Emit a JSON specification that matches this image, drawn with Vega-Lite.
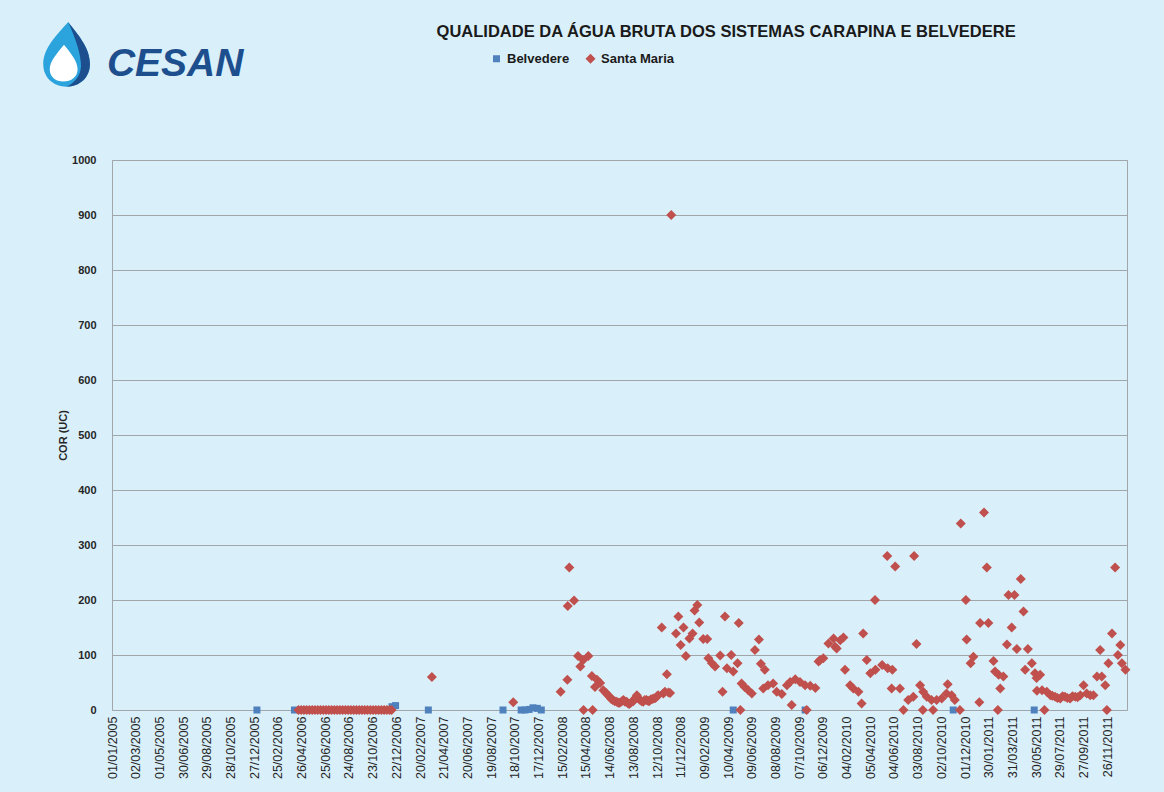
{
  "$schema": "https://vega.github.io/schema/vega-lite/v6.json",
  "autosize": {"type": "none"},
  "padding": {"left": 112, "top": 160, "right": 37, "bottom": 82},
  "width": 1015,
  "height": 550,
  "background": "#d9eff9",
  "config": {
    "font": "Liberation Sans",
    "view": {"stroke": "#a0a6aa", "strokeWidth": 1}
  },
  "layer": [
    {
      "data": {"values": [
        {"d": "2006-01-03", "s": "Belvedere", "v": 0},
        {"d": "2006-04-08", "s": "Belvedere", "v": 0},
        {"d": "2006-12-11", "s": "Belvedere", "v": 6},
        {"d": "2006-12-20", "s": "Belvedere", "v": 8},
        {"d": "2007-03-13", "s": "Belvedere", "v": 0},
        {"d": "2007-09-18", "s": "Belvedere", "v": 0},
        {"d": "2007-11-03", "s": "Belvedere", "v": 0},
        {"d": "2007-11-13", "s": "Belvedere", "v": 0},
        {"d": "2007-11-23", "s": "Belvedere", "v": 1},
        {"d": "2007-12-03", "s": "Belvedere", "v": 4},
        {"d": "2007-12-14", "s": "Belvedere", "v": 3},
        {"d": "2007-12-24", "s": "Belvedere", "v": 0},
        {"d": "2009-04-23", "s": "Belvedere", "v": 0},
        {"d": "2009-10-22", "s": "Belvedere", "v": 0},
        {"d": "2010-11-01", "s": "Belvedere", "v": 0},
        {"d": "2011-05-25", "s": "Belvedere", "v": 0},
        {"d": "2006-04-18", "s": "Santa Maria", "v": 0},
        {"d": "2006-04-25", "s": "Santa Maria", "v": 0},
        {"d": "2006-05-02", "s": "Santa Maria", "v": 0},
        {"d": "2006-05-09", "s": "Santa Maria", "v": 0},
        {"d": "2006-05-16", "s": "Santa Maria", "v": 0},
        {"d": "2006-05-23", "s": "Santa Maria", "v": 0},
        {"d": "2006-05-30", "s": "Santa Maria", "v": 0},
        {"d": "2006-06-06", "s": "Santa Maria", "v": 0},
        {"d": "2006-06-13", "s": "Santa Maria", "v": 0},
        {"d": "2006-06-20", "s": "Santa Maria", "v": 0},
        {"d": "2006-06-27", "s": "Santa Maria", "v": 0},
        {"d": "2006-07-04", "s": "Santa Maria", "v": 0},
        {"d": "2006-07-11", "s": "Santa Maria", "v": 0},
        {"d": "2006-07-18", "s": "Santa Maria", "v": 0},
        {"d": "2006-07-25", "s": "Santa Maria", "v": 0},
        {"d": "2006-08-01", "s": "Santa Maria", "v": 0},
        {"d": "2006-08-08", "s": "Santa Maria", "v": 0},
        {"d": "2006-08-15", "s": "Santa Maria", "v": 0},
        {"d": "2006-08-22", "s": "Santa Maria", "v": 0},
        {"d": "2006-08-29", "s": "Santa Maria", "v": 0},
        {"d": "2006-09-05", "s": "Santa Maria", "v": 0},
        {"d": "2006-09-12", "s": "Santa Maria", "v": 0},
        {"d": "2006-09-19", "s": "Santa Maria", "v": 0},
        {"d": "2006-09-26", "s": "Santa Maria", "v": 0},
        {"d": "2006-10-03", "s": "Santa Maria", "v": 0},
        {"d": "2006-10-10", "s": "Santa Maria", "v": 0},
        {"d": "2006-10-17", "s": "Santa Maria", "v": 0},
        {"d": "2006-10-24", "s": "Santa Maria", "v": 0},
        {"d": "2006-10-31", "s": "Santa Maria", "v": 0},
        {"d": "2006-11-07", "s": "Santa Maria", "v": 0},
        {"d": "2006-11-14", "s": "Santa Maria", "v": 0},
        {"d": "2006-11-21", "s": "Santa Maria", "v": 0},
        {"d": "2006-11-28", "s": "Santa Maria", "v": 0},
        {"d": "2006-12-05", "s": "Santa Maria", "v": 0},
        {"d": "2006-12-10", "s": "Santa Maria", "v": 0},
        {"d": "2007-03-22", "s": "Santa Maria", "v": 60},
        {"d": "2007-10-14", "s": "Santa Maria", "v": 14},
        {"d": "2008-02-11", "s": "Santa Maria", "v": 33},
        {"d": "2008-02-28", "s": "Santa Maria", "v": 55},
        {"d": "2008-02-29", "s": "Santa Maria", "v": 189},
        {"d": "2008-03-04", "s": "Santa Maria", "v": 259},
        {"d": "2008-03-16", "s": "Santa Maria", "v": 199},
        {"d": "2008-03-26", "s": "Santa Maria", "v": 98},
        {"d": "2008-04-01", "s": "Santa Maria", "v": 79},
        {"d": "2008-04-08", "s": "Santa Maria", "v": 91},
        {"d": "2008-04-09", "s": "Santa Maria", "v": 0},
        {"d": "2008-04-21", "s": "Santa Maria", "v": 98},
        {"d": "2008-04-30", "s": "Santa Maria", "v": 62},
        {"d": "2008-05-02", "s": "Santa Maria", "v": 0},
        {"d": "2008-05-08", "s": "Santa Maria", "v": 42},
        {"d": "2008-05-13", "s": "Santa Maria", "v": 55},
        {"d": "2008-05-21", "s": "Santa Maria", "v": 49},
        {"d": "2008-05-29", "s": "Santa Maria", "v": 36},
        {"d": "2008-06-05", "s": "Santa Maria", "v": 31},
        {"d": "2008-06-10", "s": "Santa Maria", "v": 27},
        {"d": "2008-06-14", "s": "Santa Maria", "v": 24},
        {"d": "2008-06-18", "s": "Santa Maria", "v": 20},
        {"d": "2008-06-22", "s": "Santa Maria", "v": 18},
        {"d": "2008-06-27", "s": "Santa Maria", "v": 16},
        {"d": "2008-07-02", "s": "Santa Maria", "v": 15},
        {"d": "2008-07-06", "s": "Santa Maria", "v": 13},
        {"d": "2008-07-10", "s": "Santa Maria", "v": 13},
        {"d": "2008-07-15", "s": "Santa Maria", "v": 16},
        {"d": "2008-07-19", "s": "Santa Maria", "v": 18},
        {"d": "2008-07-23", "s": "Santa Maria", "v": 15},
        {"d": "2008-07-27", "s": "Santa Maria", "v": 15},
        {"d": "2008-07-31", "s": "Santa Maria", "v": 12},
        {"d": "2008-08-03", "s": "Santa Maria", "v": 11},
        {"d": "2008-08-08", "s": "Santa Maria", "v": 14},
        {"d": "2008-08-13", "s": "Santa Maria", "v": 16},
        {"d": "2008-08-18", "s": "Santa Maria", "v": 22},
        {"d": "2008-08-22", "s": "Santa Maria", "v": 27},
        {"d": "2008-08-26", "s": "Santa Maria", "v": 21},
        {"d": "2008-08-30", "s": "Santa Maria", "v": 18},
        {"d": "2008-09-03", "s": "Santa Maria", "v": 16},
        {"d": "2008-09-07", "s": "Santa Maria", "v": 15},
        {"d": "2008-09-11", "s": "Santa Maria", "v": 18},
        {"d": "2008-09-15", "s": "Santa Maria", "v": 18},
        {"d": "2008-09-19", "s": "Santa Maria", "v": 17},
        {"d": "2008-09-22", "s": "Santa Maria", "v": 16},
        {"d": "2008-09-26", "s": "Santa Maria", "v": 19},
        {"d": "2008-09-30", "s": "Santa Maria", "v": 20},
        {"d": "2008-10-04", "s": "Santa Maria", "v": 21},
        {"d": "2008-10-08", "s": "Santa Maria", "v": 22},
        {"d": "2008-10-12", "s": "Santa Maria", "v": 25},
        {"d": "2008-10-15", "s": "Santa Maria", "v": 27},
        {"d": "2008-10-24", "s": "Santa Maria", "v": 150},
        {"d": "2008-10-28", "s": "Santa Maria", "v": 30},
        {"d": "2008-11-01", "s": "Santa Maria", "v": 33},
        {"d": "2008-11-06", "s": "Santa Maria", "v": 65},
        {"d": "2008-11-10", "s": "Santa Maria", "v": 32},
        {"d": "2008-11-14", "s": "Santa Maria", "v": 31},
        {"d": "2008-11-17", "s": "Santa Maria", "v": 900},
        {"d": "2008-11-29", "s": "Santa Maria", "v": 139},
        {"d": "2008-12-05", "s": "Santa Maria", "v": 170},
        {"d": "2008-12-11", "s": "Santa Maria", "v": 118},
        {"d": "2008-12-18", "s": "Santa Maria", "v": 150},
        {"d": "2008-12-24", "s": "Santa Maria", "v": 98},
        {"d": "2009-01-02", "s": "Santa Maria", "v": 130},
        {"d": "2009-01-10", "s": "Santa Maria", "v": 139},
        {"d": "2009-01-15", "s": "Santa Maria", "v": 181},
        {"d": "2009-01-22", "s": "Santa Maria", "v": 191},
        {"d": "2009-01-27", "s": "Santa Maria", "v": 159},
        {"d": "2009-02-06", "s": "Santa Maria", "v": 129},
        {"d": "2009-02-16", "s": "Santa Maria", "v": 129},
        {"d": "2009-02-19", "s": "Santa Maria", "v": 94},
        {"d": "2009-02-28", "s": "Santa Maria", "v": 85},
        {"d": "2009-03-08", "s": "Santa Maria", "v": 79},
        {"d": "2009-03-21", "s": "Santa Maria", "v": 99},
        {"d": "2009-03-27", "s": "Santa Maria", "v": 33},
        {"d": "2009-04-02", "s": "Santa Maria", "v": 170},
        {"d": "2009-04-07", "s": "Santa Maria", "v": 76},
        {"d": "2009-04-18", "s": "Santa Maria", "v": 100},
        {"d": "2009-04-23", "s": "Santa Maria", "v": 70},
        {"d": "2009-05-04", "s": "Santa Maria", "v": 85},
        {"d": "2009-05-07", "s": "Santa Maria", "v": 158},
        {"d": "2009-05-11", "s": "Santa Maria", "v": 0},
        {"d": "2009-05-14", "s": "Santa Maria", "v": 48},
        {"d": "2009-05-22", "s": "Santa Maria", "v": 42},
        {"d": "2009-05-31", "s": "Santa Maria", "v": 36},
        {"d": "2009-06-09", "s": "Santa Maria", "v": 30},
        {"d": "2009-06-17", "s": "Santa Maria", "v": 109},
        {"d": "2009-06-27", "s": "Santa Maria", "v": 128},
        {"d": "2009-07-02", "s": "Santa Maria", "v": 84},
        {"d": "2009-07-08", "s": "Santa Maria", "v": 39},
        {"d": "2009-07-12", "s": "Santa Maria", "v": 73},
        {"d": "2009-07-20", "s": "Santa Maria", "v": 45},
        {"d": "2009-08-02", "s": "Santa Maria", "v": 48},
        {"d": "2009-08-11", "s": "Santa Maria", "v": 33},
        {"d": "2009-08-24", "s": "Santa Maria", "v": 29},
        {"d": "2009-09-06", "s": "Santa Maria", "v": 45},
        {"d": "2009-09-14", "s": "Santa Maria", "v": 51},
        {"d": "2009-09-18", "s": "Santa Maria", "v": 9},
        {"d": "2009-09-27", "s": "Santa Maria", "v": 56},
        {"d": "2009-10-09", "s": "Santa Maria", "v": 51},
        {"d": "2009-10-22", "s": "Santa Maria", "v": 45},
        {"d": "2009-10-26", "s": "Santa Maria", "v": 0},
        {"d": "2009-11-04", "s": "Santa Maria", "v": 44},
        {"d": "2009-11-17", "s": "Santa Maria", "v": 40},
        {"d": "2009-11-25", "s": "Santa Maria", "v": 88},
        {"d": "2009-11-29", "s": "Santa Maria", "v": 91},
        {"d": "2009-12-07", "s": "Santa Maria", "v": 94},
        {"d": "2009-12-20", "s": "Santa Maria", "v": 121},
        {"d": "2010-01-02", "s": "Santa Maria", "v": 130},
        {"d": "2010-01-06", "s": "Santa Maria", "v": 115},
        {"d": "2010-01-10", "s": "Santa Maria", "v": 112},
        {"d": "2010-01-19", "s": "Santa Maria", "v": 127},
        {"d": "2010-01-27", "s": "Santa Maria", "v": 132},
        {"d": "2010-01-31", "s": "Santa Maria", "v": 73},
        {"d": "2010-02-13", "s": "Santa Maria", "v": 45},
        {"d": "2010-02-21", "s": "Santa Maria", "v": 39},
        {"d": "2010-03-06", "s": "Santa Maria", "v": 33},
        {"d": "2010-03-14", "s": "Santa Maria", "v": 12},
        {"d": "2010-03-18", "s": "Santa Maria", "v": 139},
        {"d": "2010-03-27", "s": "Santa Maria", "v": 91},
        {"d": "2010-04-05", "s": "Santa Maria", "v": 67},
        {"d": "2010-04-17", "s": "Santa Maria", "v": 200},
        {"d": "2010-04-18", "s": "Santa Maria", "v": 73},
        {"d": "2010-05-05", "s": "Santa Maria", "v": 82},
        {"d": "2010-05-18", "s": "Santa Maria", "v": 280},
        {"d": "2010-05-19", "s": "Santa Maria", "v": 76},
        {"d": "2010-05-29", "s": "Santa Maria", "v": 39},
        {"d": "2010-05-31", "s": "Santa Maria", "v": 73},
        {"d": "2010-06-07", "s": "Santa Maria", "v": 261},
        {"d": "2010-06-19", "s": "Santa Maria", "v": 39},
        {"d": "2010-06-28", "s": "Santa Maria", "v": 0},
        {"d": "2010-07-10", "s": "Santa Maria", "v": 18},
        {"d": "2010-07-23", "s": "Santa Maria", "v": 24},
        {"d": "2010-07-25", "s": "Santa Maria", "v": 280},
        {"d": "2010-07-31", "s": "Santa Maria", "v": 120},
        {"d": "2010-08-09", "s": "Santa Maria", "v": 45},
        {"d": "2010-08-16", "s": "Santa Maria", "v": 0},
        {"d": "2010-08-17", "s": "Santa Maria", "v": 33},
        {"d": "2010-08-26", "s": "Santa Maria", "v": 24},
        {"d": "2010-09-07", "s": "Santa Maria", "v": 18},
        {"d": "2010-09-11", "s": "Santa Maria", "v": 0},
        {"d": "2010-09-20", "s": "Santa Maria", "v": 18},
        {"d": "2010-10-03", "s": "Santa Maria", "v": 21},
        {"d": "2010-10-15", "s": "Santa Maria", "v": 30},
        {"d": "2010-10-18", "s": "Santa Maria", "v": 47},
        {"d": "2010-10-28", "s": "Santa Maria", "v": 27},
        {"d": "2010-11-05", "s": "Santa Maria", "v": 18},
        {"d": "2010-11-18", "s": "Santa Maria", "v": 0},
        {"d": "2010-11-20", "s": "Santa Maria", "v": 339},
        {"d": "2010-12-03", "s": "Santa Maria", "v": 200},
        {"d": "2010-12-05", "s": "Santa Maria", "v": 128},
        {"d": "2010-12-15", "s": "Santa Maria", "v": 85},
        {"d": "2010-12-22", "s": "Santa Maria", "v": 97},
        {"d": "2011-01-06", "s": "Santa Maria", "v": 14},
        {"d": "2011-01-08", "s": "Santa Maria", "v": 158},
        {"d": "2011-01-18", "s": "Santa Maria", "v": 359},
        {"d": "2011-01-25", "s": "Santa Maria", "v": 259},
        {"d": "2011-01-29", "s": "Santa Maria", "v": 158},
        {"d": "2011-02-11", "s": "Santa Maria", "v": 89},
        {"d": "2011-02-15", "s": "Santa Maria", "v": 70},
        {"d": "2011-02-22", "s": "Santa Maria", "v": 0},
        {"d": "2011-02-24", "s": "Santa Maria", "v": 64},
        {"d": "2011-02-28", "s": "Santa Maria", "v": 39},
        {"d": "2011-03-08", "s": "Santa Maria", "v": 61},
        {"d": "2011-03-17", "s": "Santa Maria", "v": 119},
        {"d": "2011-03-21", "s": "Santa Maria", "v": 209},
        {"d": "2011-03-29", "s": "Santa Maria", "v": 150},
        {"d": "2011-04-05", "s": "Santa Maria", "v": 209},
        {"d": "2011-04-11", "s": "Santa Maria", "v": 111},
        {"d": "2011-04-21", "s": "Santa Maria", "v": 238},
        {"d": "2011-04-28", "s": "Santa Maria", "v": 179},
        {"d": "2011-05-02", "s": "Santa Maria", "v": 73},
        {"d": "2011-05-09", "s": "Santa Maria", "v": 111},
        {"d": "2011-05-19", "s": "Santa Maria", "v": 85},
        {"d": "2011-05-27", "s": "Santa Maria", "v": 67},
        {"d": "2011-05-31", "s": "Santa Maria", "v": 58},
        {"d": "2011-06-01", "s": "Santa Maria", "v": 35},
        {"d": "2011-06-09", "s": "Santa Maria", "v": 64},
        {"d": "2011-06-14", "s": "Santa Maria", "v": 36},
        {"d": "2011-06-20", "s": "Santa Maria", "v": 0},
        {"d": "2011-06-26", "s": "Santa Maria", "v": 33},
        {"d": "2011-07-05", "s": "Santa Maria", "v": 27},
        {"d": "2011-07-10", "s": "Santa Maria", "v": 26},
        {"d": "2011-07-17", "s": "Santa Maria", "v": 24},
        {"d": "2011-07-23", "s": "Santa Maria", "v": 22},
        {"d": "2011-07-30", "s": "Santa Maria", "v": 21},
        {"d": "2011-08-05", "s": "Santa Maria", "v": 25},
        {"d": "2011-08-11", "s": "Santa Maria", "v": 24},
        {"d": "2011-08-17", "s": "Santa Maria", "v": 22},
        {"d": "2011-08-24", "s": "Santa Maria", "v": 21},
        {"d": "2011-08-30", "s": "Santa Maria", "v": 25},
        {"d": "2011-09-06", "s": "Santa Maria", "v": 24},
        {"d": "2011-09-12", "s": "Santa Maria", "v": 23},
        {"d": "2011-09-19", "s": "Santa Maria", "v": 27},
        {"d": "2011-09-27", "s": "Santa Maria", "v": 45},
        {"d": "2011-10-05", "s": "Santa Maria", "v": 30},
        {"d": "2011-10-14", "s": "Santa Maria", "v": 27},
        {"d": "2011-10-22", "s": "Santa Maria", "v": 27},
        {"d": "2011-10-31", "s": "Santa Maria", "v": 61},
        {"d": "2011-11-08", "s": "Santa Maria", "v": 109},
        {"d": "2011-11-12", "s": "Santa Maria", "v": 61},
        {"d": "2011-11-21", "s": "Santa Maria", "v": 45},
        {"d": "2011-11-25", "s": "Santa Maria", "v": 0},
        {"d": "2011-11-29", "s": "Santa Maria", "v": 85},
        {"d": "2011-12-08", "s": "Santa Maria", "v": 139},
        {"d": "2011-12-16", "s": "Santa Maria", "v": 259},
        {"d": "2011-12-23", "s": "Santa Maria", "v": 100},
        {"d": "2011-12-29", "s": "Santa Maria", "v": 118},
        {"d": "2012-01-02", "s": "Santa Maria", "v": 85},
        {"d": "2012-01-11", "s": "Santa Maria", "v": 73}
      ]},
      "mark": {"type": "point", "filled": true, "opacity": 1, "strokeWidth": 0},
      "encoding": {
        "x": {
          "field": "d",
          "type": "temporal",
          "scale": {
            "type": "utc",
            "nice": false,
            "domain": [
              {"year": 2005, "month": 1, "date": 1, "utc": true},
              {"year": 2012, "month": 1, "date": 15, "utc": true}
            ]
          },
          "axis": {
            "title": null,
            "grid": false,
            "ticks": false,
            "domain": false,
            "tickCount": 60,
            "labelAngle": -90,
            "labelFontSize": 12.5,
            "labelColor": "#262626",
            "labelPadding": 6,
            "labelOverlap": false,
            "labelBound": false,
            "labelFlush": false,
            "labelExpr": "utcFormat(datum.value, '%d/%m/%Y')",
            "values": [
              {"year": 2005, "month": 1, "date": 1, "utc": true},
              {"year": 2005, "month": 3, "date": 2, "utc": true},
              {"year": 2005, "month": 5, "date": 1, "utc": true},
              {"year": 2005, "month": 6, "date": 30, "utc": true},
              {"year": 2005, "month": 8, "date": 29, "utc": true},
              {"year": 2005, "month": 10, "date": 28, "utc": true},
              {"year": 2005, "month": 12, "date": 27, "utc": true},
              {"year": 2006, "month": 2, "date": 25, "utc": true},
              {"year": 2006, "month": 4, "date": 26, "utc": true},
              {"year": 2006, "month": 6, "date": 25, "utc": true},
              {"year": 2006, "month": 8, "date": 24, "utc": true},
              {"year": 2006, "month": 10, "date": 23, "utc": true},
              {"year": 2006, "month": 12, "date": 22, "utc": true},
              {"year": 2007, "month": 2, "date": 20, "utc": true},
              {"year": 2007, "month": 4, "date": 21, "utc": true},
              {"year": 2007, "month": 6, "date": 20, "utc": true},
              {"year": 2007, "month": 8, "date": 19, "utc": true},
              {"year": 2007, "month": 10, "date": 18, "utc": true},
              {"year": 2007, "month": 12, "date": 17, "utc": true},
              {"year": 2008, "month": 2, "date": 15, "utc": true},
              {"year": 2008, "month": 4, "date": 15, "utc": true},
              {"year": 2008, "month": 6, "date": 14, "utc": true},
              {"year": 2008, "month": 8, "date": 13, "utc": true},
              {"year": 2008, "month": 10, "date": 12, "utc": true},
              {"year": 2008, "month": 12, "date": 11, "utc": true},
              {"year": 2009, "month": 2, "date": 9, "utc": true},
              {"year": 2009, "month": 4, "date": 10, "utc": true},
              {"year": 2009, "month": 6, "date": 9, "utc": true},
              {"year": 2009, "month": 8, "date": 8, "utc": true},
              {"year": 2009, "month": 10, "date": 7, "utc": true},
              {"year": 2009, "month": 12, "date": 6, "utc": true},
              {"year": 2010, "month": 2, "date": 4, "utc": true},
              {"year": 2010, "month": 4, "date": 5, "utc": true},
              {"year": 2010, "month": 6, "date": 4, "utc": true},
              {"year": 2010, "month": 8, "date": 3, "utc": true},
              {"year": 2010, "month": 10, "date": 2, "utc": true},
              {"year": 2010, "month": 12, "date": 1, "utc": true},
              {"year": 2011, "month": 1, "date": 30, "utc": true},
              {"year": 2011, "month": 3, "date": 31, "utc": true},
              {"year": 2011, "month": 5, "date": 30, "utc": true},
              {"year": 2011, "month": 7, "date": 29, "utc": true},
              {"year": 2011, "month": 9, "date": 27, "utc": true},
              {"year": 2011, "month": 11, "date": 26, "utc": true}
            ]
          }
        },
        "y": {
          "field": "v",
          "type": "quantitative",
          "scale": {"domain": [0, 1000], "nice": false},
          "axis": {
            "title": "COR (UC)",
            "format": "d",
            "values": [0, 100, 200, 300, 400, 500, 600, 700, 800, 900, 1000],
            "grid": true,
            "gridColor": "#a0a6aa",
            "gridWidth": 1,
            "domain": false,
            "ticks": false,
            "labelFontSize": 11,
            "labelFontWeight": "bold",
            "labelColor": "#262626",
            "labelPadding": 16,
            "titleFontSize": 11,
            "titleFontWeight": "bold",
            "titleColor": "#262626",
            "titlePadding": 3
          }
        },
        "color": {
          "field": "s",
          "type": "nominal",
          "scale": {"domain": ["Belvedere", "Santa Maria"], "range": ["#4f81bd", "#c0504d"]},
          "legend": {
            "title": null,
            "orient": "none",
            "legendX": 378,
            "legendY": -108,
            "direction": "horizontal",
            "labelFontSize": 13,
            "labelFontWeight": "bold",
            "labelColor": "#1a1a1a",
            "symbolSize": 50,
            "columnPadding": 14,
            "labelOffset": 4
          }
        },
        "shape": {
          "field": "s",
          "type": "nominal",
          "scale": {"domain": ["Belvedere", "Santa Maria"], "range": ["square", "diamond"]}
        },
        "size": {
          "field": "s",
          "type": "nominal",
          "scale": {"domain": ["Belvedere", "Santa Maria"], "range": [49, 100]},
          "legend": null
        }
      }
    },
    {
      "data": {"values": [{"t": "QUALIDADE DA ÁGUA BRUTA DOS SISTEMAS CARAPINA E BELVEDERE"}]},
      "mark": {
        "type": "text",
        "font": "Liberation Sans",
        "fontSize": 16.5,
        "fontWeight": "bold",
        "color": "#1a1a1a",
        "align": "center",
        "baseline": "alphabetic"
      },
      "encoding": {
        "x": {"datum": {"year": 2009, "month": 4, "date": 5, "utc": true}, "type": "temporal"},
        "y": {"datum": 1224, "type": "quantitative"},
        "text": {"field": "t"}
      }
    },
    {
      "data": {"values": [{"part": "outer"}]},
      "mark": {
        "type": "point",
        "filled": true,
        "opacity": 1,
        "strokeWidth": 0,
        "size": 4200,
        "color": "#2ba3dd",
        "shape": "M0.05,-1 C0.3,-0.65 0.72,-0.25 0.72,0.3 C0.72,0.72 0.4,1 0,1 C-0.4,1 -0.72,0.72 -0.72,0.3 C-0.72,-0.2 -0.3,-0.6 0.05,-1 Z"
      },
      "encoding": {
        "x": {"datum": {"year": 2004, "month": 9, "date": 8, "utc": true}, "type": "temporal"},
        "y": {"datum": 1192, "type": "quantitative"}
      }
    },
    {
      "data": {"values": [{"part": "crescent"}]},
      "mark": {
        "type": "point",
        "filled": true,
        "opacity": 1,
        "strokeWidth": 0,
        "size": 4200,
        "color": "#1d4f8e",
        "shape": "M0.05,-1 C0.3,-0.65 0.72,-0.25 0.72,0.3 C0.72,0.72 0.4,1 0,1 C0.32,0.85 0.48,0.55 0.44,0.25 C0.4,-0.2 0.22,-0.6 0.05,-1 Z"
      },
      "encoding": {
        "x": {"datum": {"year": 2004, "month": 9, "date": 8, "utc": true}, "type": "temporal"},
        "y": {"datum": 1192, "type": "quantitative"}
      }
    },
    {
      "data": {"values": [{"part": "inner"}]},
      "mark": {
        "type": "point",
        "filled": true,
        "opacity": 1,
        "strokeWidth": 0,
        "size": 4200,
        "color": "#ffffff",
        "shape": "M-0.08,-0.3 C0.12,-0.05 0.34,0.2 0.34,0.46 C0.34,0.7 0.14,0.84 -0.1,0.84 C-0.34,0.84 -0.52,0.7 -0.52,0.46 C-0.52,0.2 -0.28,-0.05 -0.08,-0.3 Z"
      },
      "encoding": {
        "x": {"datum": {"year": 2004, "month": 9, "date": 8, "utc": true}, "type": "temporal"},
        "y": {"datum": 1192, "type": "quantitative"}
      }
    },
    {
      "data": {"values": [{"t": "CESAN"}]},
      "mark": {
        "type": "text",
        "font": "Liberation Sans",
        "fontSize": 39,
        "fontWeight": "bold",
        "fontStyle": "italic",
        "color": "#1d4f8e",
        "align": "center",
        "baseline": "alphabetic"
      },
      "encoding": {
        "x": {"datum": {"year": 2005, "month": 6, "date": 10, "utc": true}, "type": "temporal"},
        "y": {"datum": 1153, "type": "quantitative"},
        "text": {"field": "t"}
      }
    }
  ]
}
